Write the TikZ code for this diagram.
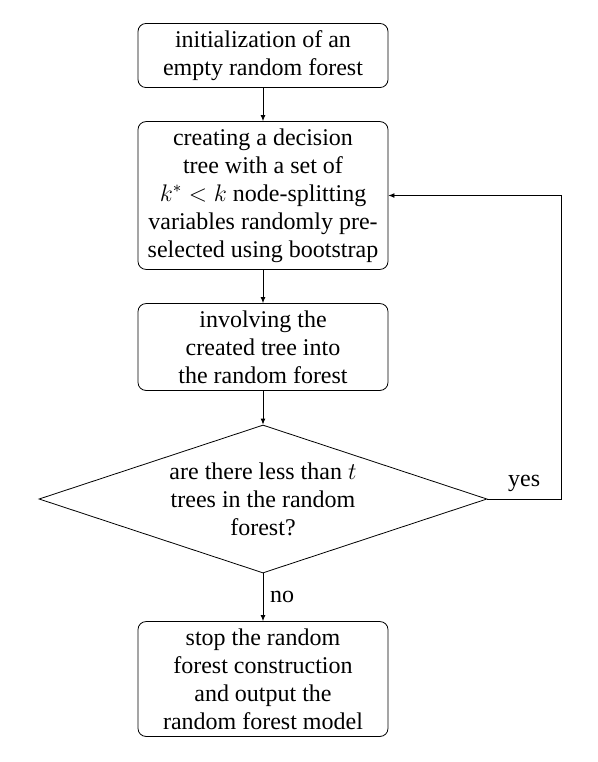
\documentclass[tikz,border=0pt]{standalone}
\usepackage{fontspec}
\setmainfont{Liberation Serif}
\usetikzlibrary{arrows.meta,
                positioning,
                shapes.geometric
            }

\tikzset{
    procbox/.style={draw, rounded corners=4pt, minimum width=125pt, align=center,
                    inner xsep=2pt, inner ysep=3.5pt},
    choice/.style={draw, diamond, aspect=3, inner sep=0pt, align=center,
                   minimum width=224pt, minimum height=74pt},
    flow/.style={-{Latex[length=3pt, width=2.4pt]}}
}

\begin{document}
\begin{tikzpicture}[x=0.5pt, y=-0.5pt, font=\fontsize{12}{14}\selectfont]
            \useasboundingbox (0, 0) rectangle (598, 762);
            \node[procbox] (init) at (263, 55.5) {initialization of an\\empty random forest};
            \node[procbox] (grow) at (263, 195.5) {creating a decision\\tree with a set of\\$k^* < k$ node-splitting\\variables randomly pre-\\selected using bootstrap};
            \node[procbox] (add) at (263, 347) {involving the\\created tree into\\the random forest};
            \node[choice] (test) at (263, 499) {are there less than $t$\\trees in the random\\forest?};
            \node[procbox] (stop) at (263, 679) {stop the random\\forest construction\\and output the\\random forest model};
            \coordinate (loop) at (561, 499);
            \draw[flow] (init) -- (grow);
            \draw[flow] (grow) -- (add);
            \draw[flow] (add) -- (test);
            \draw[flow] (test) -- node[right] {no} (stop);
            \draw[flow] (test.east) -- node[above] {yes} (loop) |- (grow.east);
        \end{tikzpicture}
\end{document}
